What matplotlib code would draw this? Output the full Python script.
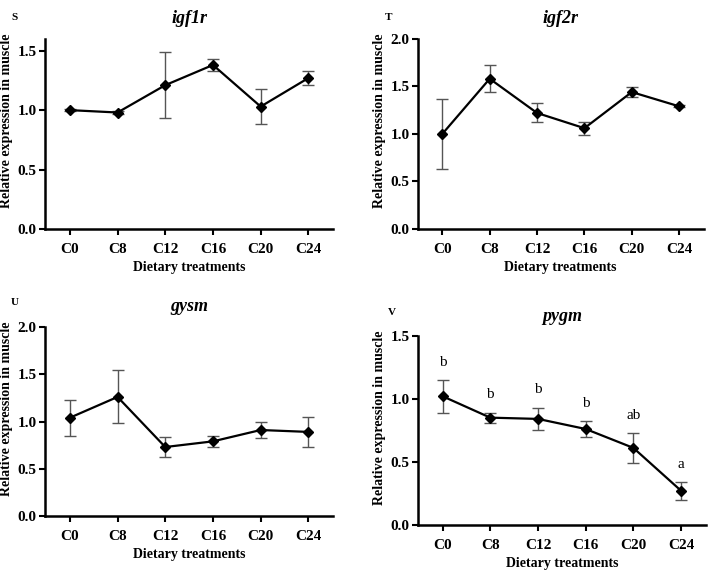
import matplotlib
matplotlib.use('Agg')
import matplotlib.pyplot as plt

plt.rcParams['font.family'] = ['Liberation Serif', 'DejaVu Serif']

groups = ['C0', 'C8', 'C12', 'C16', 'C20', 'C24']

igf1r_mean = [1.00, 0.98, 1.21, 1.38, 1.03, 1.27]
igf1r_err = [0.01, 0.01, 0.28, 0.05, 0.15, 0.06]

igf2r_mean = [1.00, 1.58, 1.22, 1.06, 1.44, 1.29]
igf2r_err = [0.37, 0.14, 0.10, 0.07, 0.05, 0.01]

gysm_mean = [1.04, 1.26, 0.73, 0.79, 0.91, 0.89]
gysm_err = [0.19, 0.28, 0.11, 0.06, 0.08, 0.16]

pygm_mean = [1.02, 0.85, 0.84, 0.76, 0.61, 0.27]
pygm_err = [0.13, 0.04, 0.09, 0.06, 0.12, 0.07]
pygm_letters = ['b', 'b', 'b', 'b', 'ab', 'a']

fig = plt.figure(figsize=(7.08, 5.71), dpi=100)

panels = [
    # name, mean, err, rect, ymax, yticks, panel letter, letter pos, title y
    ('igf1r', igf1r_mean, igf1r_err, [0.0636, 0.599, 0.407, 0.333], 1.6,
     [0.0, 0.5, 1.0, 1.5], 'S', (0.021, 0.970), 0.982),
    ('igf2r', igf2r_mean, igf2r_err, [0.590, 0.599, 0.404, 0.333], 2.0,
     [0.0, 0.5, 1.0, 1.5, 2.0], 'T', (0.549, 0.970), 0.982),
    ('gysm', gysm_mean, gysm_err, [0.0636, 0.0963, 0.407, 0.331], 2.0,
     [0.0, 0.5, 1.0, 1.5, 2.0], 'U', (0.021, 0.471), 0.478),
    ('pygm', pygm_mean, pygm_err, [0.590, 0.081, 0.407, 0.331], 1.5,
     [0.0, 0.5, 1.0, 1.5], 'V', (0.553, 0.452), 0.461),
]

x = list(range(len(groups)))

for name, mean, err, rect, ymax, yticks, letter, lpos, ty in panels:
    ax = fig.add_axes(rect)
    ax.errorbar(x, mean, yerr=err, color='black', marker='D', markersize=5,
                linewidth=1.6, ecolor='#555555', elinewidth=1.0, capsize=4,
                capthick=1.0)
    ax.set_xlim(-0.52, 5.52)
    ax.set_ylim(0, ymax)
    ax.set_yticks(yticks)
    ax.set_yticklabels(['%.1f' % t for t in yticks], fontweight='bold', fontsize=11)
    ax.set_xticks(x)
    ax.set_xticklabels(groups, fontweight='bold', fontsize=11)
    for side in ['top', 'right']:
        ax.spines[side].set_visible(False)
    for side in ['left', 'bottom']:
        ax.spines[side].set_linewidth(1.8)
    ax.tick_params(width=1.5, length=4, direction='out')
    ax.tick_params(axis='x', pad=6)
    ax.tick_params(axis='y', pad=2)
    ax.set_xlabel('Dietary treatments', fontweight='bold', fontsize=10, labelpad=4)
    ax.set_ylabel('Relative expression in muscle', fontweight='bold', fontsize=10)
    ax.yaxis.set_label_coords(-0.11, 0.568)
    cx = rect[0] + rect[2] / 2
    fig.text(cx, ty, name, ha='center', va='top', fontsize=13,
             fontweight='bold', style='italic')
    fig.text(lpos[0], lpos[1], letter, ha='center', va='center', fontsize=8,
             fontweight='bold')
    if name == 'pygm':
        for xi, m, e, lab in zip(x, mean, err, pygm_letters):
            ax.text(xi, m + e + 0.14, lab, ha='center', va='center', fontsize=11)

fig.savefig('out.png', dpi=100)
